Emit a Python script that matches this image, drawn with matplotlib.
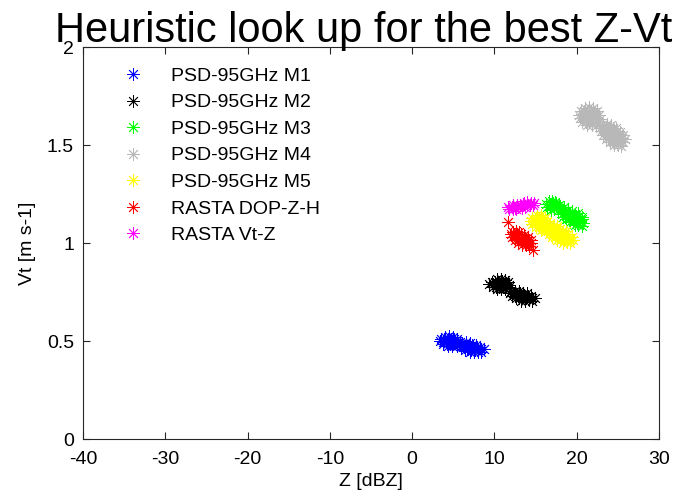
import matplotlib
matplotlib.use("Agg")
import matplotlib.pyplot as plt

plt.rcParams['font.family'] = ['Liberation Sans', 'DejaVu Sans']
plt.rcParams['axes.unicode_minus'] = False

# (Z [dBZ], Vt [m/s]) pairs for each particle model / retrieval
m1_points = [
    (4.0, 0.522), (4.5, 0.524), (5.0, 0.520),
    (3.5, 0.510), (3.9, 0.511), (4.3, 0.509), (4.7, 0.512), (5.1, 0.508), (5.5, 0.510),
    (3.4, 0.498), (3.8, 0.497), (4.2, 0.500), (4.6, 0.498), (5.0, 0.496), (5.4, 0.499), (5.8, 0.497),
    (3.8, 0.486), (4.2, 0.487), (4.6, 0.485), (5.0, 0.486), (5.4, 0.484), (5.8, 0.487),
    (4.4, 0.476), (4.9, 0.475), (5.4, 0.477),
    (6.0, 0.492), (6.5, 0.493), (7.0, 0.490),
    (5.7, 0.480), (6.1, 0.481), (6.5, 0.479), (6.9, 0.482), (7.3, 0.478), (7.7, 0.480),
    (5.9, 0.468), (6.3, 0.469), (6.7, 0.467), (7.1, 0.468), (7.5, 0.466), (7.9, 0.469), (8.3, 0.467),
    (6.4, 0.456), (6.8, 0.457), (7.2, 0.455), (7.6, 0.456), (8.0, 0.454), (8.4, 0.457), (8.7, 0.458),
    (7.0, 0.444), (7.5, 0.445), (8.0, 0.443), (8.4, 0.446),
]

m2_points = [
    (10.3, 0.815), (10.8, 0.817), (11.3, 0.813),
    (9.7, 0.802), (10.1, 0.803), (10.5, 0.801), (10.9, 0.804), (11.3, 0.800), (11.7, 0.802),
    (9.4, 0.789), (9.8, 0.790), (10.2, 0.788), (10.6, 0.789), (11.0, 0.787), (11.4, 0.790), (11.8, 0.788),
    (9.8, 0.776), (10.2, 0.777), (10.6, 0.775), (11.0, 0.776), (11.4, 0.774), (11.8, 0.777),
    (10.3, 0.764), (10.8, 0.763), (11.3, 0.765),
    (12.0, 0.755), (12.5, 0.756), (13.0, 0.754),
    (11.9, 0.743), (12.3, 0.744), (12.7, 0.742), (13.1, 0.743), (13.5, 0.741), (13.9, 0.744),
    (12.1, 0.730), (12.5, 0.731), (12.9, 0.729), (13.3, 0.730), (13.7, 0.728), (14.1, 0.731), (14.5, 0.729),
    (12.6, 0.718), (13.0, 0.719), (13.4, 0.717), (13.8, 0.718), (14.2, 0.716), (14.6, 0.719), (14.9, 0.720),
    (13.2, 0.706), (13.7, 0.705), (14.2, 0.707), (14.6, 0.706),
]

m3_points = [
    (16.6, 1.212), (17.0, 1.214), (17.4, 1.211),
    (16.3, 1.198), (16.7, 1.199), (17.1, 1.197), (17.5, 1.200), (17.9, 1.196),
    (16.4, 1.184), (16.8, 1.185), (17.2, 1.183), (17.6, 1.184), (18.0, 1.182), (18.4, 1.185),
    (16.9, 1.170), (17.3, 1.171), (17.7, 1.169), (18.1, 1.170), (18.5, 1.168),
    (18.6, 1.165), (19.0, 1.166), (19.4, 1.164),
    (18.2, 1.150), (18.6, 1.151), (19.0, 1.149), (19.4, 1.150), (19.8, 1.148), (20.2, 1.151),
    (18.3, 1.135), (18.7, 1.136), (19.1, 1.134), (19.5, 1.135), (19.9, 1.133), (20.3, 1.136), (20.7, 1.134),
    (18.7, 1.120), (19.1, 1.121), (19.5, 1.119), (19.9, 1.120), (20.3, 1.118), (20.7, 1.121),
    (19.2, 1.105), (19.6, 1.106), (20.0, 1.104), (20.4, 1.105), (20.8, 1.103),
    (19.8, 1.090), (20.2, 1.091), (20.6, 1.089),
]

m4_points = [
    (21.0, 1.690), (21.5, 1.692), (22.0, 1.688),
    (20.5, 1.672), (20.9, 1.673), (21.3, 1.671), (21.7, 1.674), (22.1, 1.670), (22.5, 1.672),
    (20.3, 1.654), (20.7, 1.655), (21.1, 1.653), (21.5, 1.654), (21.9, 1.652), (22.3, 1.655), (22.7, 1.653),
    (20.4, 1.636), (20.8, 1.637), (21.2, 1.635), (21.6, 1.636), (22.0, 1.634), (22.4, 1.637), (22.8, 1.635),
    (20.7, 1.618), (21.1, 1.619), (21.5, 1.617), (21.9, 1.618), (22.3, 1.616), (22.7, 1.619),
    (21.3, 1.600), (21.8, 1.601), (22.3, 1.599),
    (23.2, 1.605), (23.7, 1.606), (24.2, 1.604),
    (22.8, 1.587), (23.2, 1.588), (23.6, 1.586), (24.0, 1.587), (24.4, 1.585), (24.8, 1.588),
    (22.9, 1.569), (23.3, 1.570), (23.7, 1.568), (24.1, 1.569), (24.5, 1.567), (24.9, 1.570), (25.3, 1.568),
    (23.2, 1.551), (23.6, 1.552), (24.0, 1.550), (24.4, 1.551), (24.8, 1.549), (25.2, 1.552), (25.6, 1.550),
    (23.5, 1.533), (23.9, 1.534), (24.3, 1.532), (24.7, 1.533), (25.1, 1.531), (25.5, 1.534), (25.9, 1.532),
    (24.0, 1.515), (24.4, 1.516), (24.8, 1.514), (25.2, 1.515), (25.6, 1.513),
    (24.5, 1.498), (25.0, 1.499), (25.4, 1.497),
]

m5_points = [
    (15.2, 1.142), (15.6, 1.143),
    (14.6, 1.128), (15.0, 1.129), (15.4, 1.127), (15.8, 1.128), (16.2, 1.126),
    (14.4, 1.113), (14.8, 1.114), (15.2, 1.112), (15.6, 1.113), (16.0, 1.111), (16.4, 1.114),
    (14.6, 1.098), (15.0, 1.099), (15.4, 1.097), (15.8, 1.098), (16.2, 1.096), (16.6, 1.099),
    (15.0, 1.083), (15.4, 1.084), (15.8, 1.082), (16.2, 1.083), (16.6, 1.081),
    (15.6, 1.068), (16.0, 1.069), (16.4, 1.067),
    (16.8, 1.090), (17.2, 1.091), (17.6, 1.089),
    (16.4, 1.075), (16.8, 1.076), (17.2, 1.074), (17.6, 1.075), (18.0, 1.073),
    (16.3, 1.060), (16.7, 1.061), (17.1, 1.059), (17.5, 1.060), (17.9, 1.058), (18.3, 1.061), (18.7, 1.059),
    (16.6, 1.045), (17.0, 1.046), (17.4, 1.044), (17.8, 1.045), (18.2, 1.043), (18.6, 1.046), (19.0, 1.044),
    (17.0, 1.030), (17.4, 1.031), (17.8, 1.029), (18.2, 1.030), (18.6, 1.028), (19.0, 1.031), (19.4, 1.029),
    (17.6, 1.015), (18.0, 1.016), (18.4, 1.014), (18.8, 1.015), (19.2, 1.013), (19.6, 1.016),
    (18.3, 1.002), (18.8, 1.003), (19.2, 1.001),
]

dop_points = [
    (11.6, 1.107),
    (12.2, 1.058), (12.6, 1.059), (13.0, 1.057),
    (12.0, 1.044), (12.4, 1.045), (12.8, 1.043), (13.2, 1.044), (13.6, 1.042),
    (12.1, 1.030), (12.5, 1.031), (12.9, 1.029), (13.3, 1.030), (13.7, 1.028), (14.1, 1.031),
    (12.5, 1.016), (12.9, 1.017), (13.3, 1.015), (13.7, 1.016), (14.1, 1.014), (14.5, 1.017),
    (12.9, 1.002), (13.3, 1.003), (13.7, 1.001), (14.1, 1.002), (14.5, 1.000),
    (13.4, 0.988), (13.8, 0.989), (14.2, 0.987),
    (14.7, 0.964),
]

vtz_points = [
    (11.8, 1.172), (12.2, 1.173), (12.6, 1.171),
    (11.7, 1.182), (12.1, 1.183), (12.5, 1.181), (12.9, 1.184), (13.3, 1.180), (13.7, 1.182),
    (12.3, 1.194), (12.7, 1.195), (13.1, 1.193), (13.5, 1.194), (13.9, 1.192), (14.3, 1.195), (14.7, 1.193),
    (13.6, 1.206), (14.0, 1.207), (14.4, 1.205), (14.8, 1.206),
]

series = [
    ("PSD-95GHz M1", m1_points, (0, 0, 1)),
    ("PSD-95GHz M2", m2_points, (0, 0, 0)),
    ("PSD-95GHz M3", m3_points, (0, 1, 0)),
    ("PSD-95GHz M4", m4_points, (0.72, 0.72, 0.72)),
    ("PSD-95GHz M5", m5_points, (1, 1, 0)),
    ("RASTA DOP-Z-H", dop_points, (1, 0, 0)),
    ("RASTA Vt-Z", vtz_points, (1, 0, 1)),
]

fig = plt.figure(figsize=(6.88, 4.99), dpi=100)
ax = fig.add_axes([83 / 688, 60 / 499, 576 / 688, 392 / 499])

star = (8, 2, 0)
for label, pts, color in series:
    z = [p[0] for p in pts]
    vt = [p[1] for p in pts]
    ax.plot(z, vt, linestyle='none', marker=star, markersize=9,
            markeredgewidth=0.6, color=color, label=label)

ax.set_xlim(-40, 30)
ax.set_ylim(0, 2)
ax.set_xticks(range(-40, 31, 10))
ax.set_yticks([0, 0.5, 1, 1.5, 2])
ax.set_yticklabels(['0', '0.5', '1', '1.5', '2'])

for s in ax.spines.values():
    s.set_linewidth(0.8)
    s.set_color('#262626')
ax.tick_params(direction='in', top=True, right=True, length=5, width=0.8,
               color='#262626', labelsize=14)
ax.tick_params(axis='x', pad=8.6)
ax.tick_params(axis='y', pad=6.5)

ax.set_xlabel('Z [dBZ]', fontsize=14, labelpad=4)
ax.set_ylabel('Vt [m s-1]', fontsize=14, labelpad=8)

fig.text(363.5 / 688, 1 - 42 / 499, 'Heuristic look up for the best Z-Vt',
         fontsize=30, ha='center', va='baseline')

ax.legend(loc='upper left', bbox_to_anchor=(0.070, 0.9485), frameon=False,
          fontsize=14, numpoints=1, handlelength=1.0, handletextpad=1.46,
          borderpad=0, borderaxespad=0, labelspacing=0.46)

fig.savefig('out.png', dpi=100)
